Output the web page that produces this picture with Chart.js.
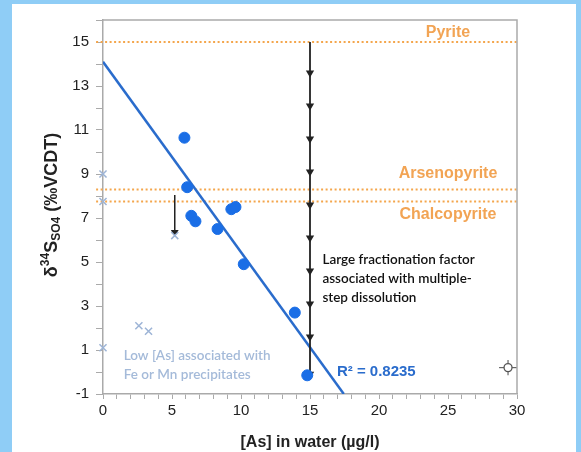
<!DOCTYPE html>
<html>
<head>
<meta charset="utf-8">
<script src="https://cdn.jsdelivr.net/npm/chart.js@4"></script>
<style>
  html, body { margin: 0; padding: 0; }
  body { background: #8fcdf6; width: 581px; height: 452px; overflow: hidden; position: relative; }
  #panel { position: absolute; left: 12px; top: 4px; width: 564px; height: 448px; background: #fff; }
</style>
</head>
<body>
<div id="panel"><canvas id="canvas" width="564" height="448"></canvas></div>
<script>
// measured samples (dissolved As vs sulfate d34S)
var asWater = [5.9, 6.1, 6.4, 6.7, 8.3, 9.3, 9.6, 10.2, 13.9, 14.8];
var d34S    = [10.65, 8.4, 7.1, 6.85, 6.5, 7.4, 7.5, 4.9, 2.7, -0.15];

// low As samples (Fe / Mn precipitates)
var lowAs   = [0, 0, 0, 2.6, 3.3, 5.2];
var lowD34S = [9.0, 7.75, 1.1, 2.1, 1.85, 6.2];

// regression line end points
var fitX = [0, 17.45];
var fitY = [14.1, -1];

// mineral reference values
var mineralNames = ['Pyrite', 'Arsenopyrite', 'Chalcopyrite'];
var mineralD34S  = [15, 8.3, 7.75];

// stepwise dissolution arrow at 15 ug/l
var stepX = 15;
var stepY = [15, 13.6, 12.1, 10.6, 9.1, 7.6, 6.1, 4.6, 3.1, 1.6, -0.1];

// small arrow
var arrowX = 5.2;
var arrowY = [8.05, 6.35];

// analytical uncertainty symbol
var errX = 29.35, errY = 0.2, errDx = 0.65, errDy = 0.35;

var xTicks = [0, 5, 10, 15, 20, 25, 30];
var yTicks = [-1, 1, 3, 5, 7, 9, 11, 13, 15];

var pts = function(xs, ys) { return xs.map(function(x, i) { return {x: x, y: ys[i]}; }); };

var datasets = [];
mineralD34S.forEach(function(v) {
  datasets.push({ type: 'line', data: [{x: -0.5, y: v}, {x: 30, y: v}], borderColor: '#f4a64c',
    borderWidth: 2, borderDash: [2, 2.5], pointRadius: 0, clip: 10, order: 5 });
});
datasets.push({ type: 'line', data: pts(fitX, fitY), borderColor: '#2a6ccc', borderWidth: 2.5, pointRadius: 0, order: 4 });
datasets.push({ type: 'line', data: stepY.map(function(y) { return {x: stepX, y: y}; }), borderColor: '#222',
  borderWidth: 1.8, pointStyle: 'triangle', rotation: 180,
  pointRadius: stepY.map(function(y, i) { return i === 0 ? 0 : 3; }),
  pointBackgroundColor: '#222', pointBorderColor: '#222', order: 3 });
datasets.push({ type: 'line', data: arrowY.map(function(y) { return {x: arrowX, y: y}; }), borderColor: '#222',
  borderWidth: 1.5, pointStyle: 'triangle', rotation: 180, pointRadius: [0, 3],
  pointBackgroundColor: '#222', pointBorderColor: '#222', order: 3 });
datasets.push({ type: 'scatter', data: pts(asWater, d34S), backgroundColor: '#1a6ee6', borderColor: '#1a6ee6',
  pointRadius: 5.5, order: 1 });
datasets.push({ type: 'scatter', data: pts(lowAs, lowD34S), pointStyle: 'crossRot', borderColor: '#9db4d6',
  borderWidth: 1.5, pointRadius: 5, clip: 10, order: 2 });
datasets.push({ type: 'line', data: [{x: errX - errDx, y: errY}, {x: errX + errDx, y: errY}], borderColor: '#666',
  borderWidth: 1.2, pointRadius: 0, order: 2 });
datasets.push({ type: 'line', data: [{x: errX, y: errY - errDy}, {x: errX, y: errY + errDy}], borderColor: '#666',
  borderWidth: 1.2, pointRadius: 0, order: 2 });
datasets.push({ type: 'scatter', data: [{x: errX, y: errY}], pointStyle: 'circle', pointRadius: 4,
  backgroundColor: '#fff', borderColor: '#555', borderWidth: 1.3, order: 1 });

var extras = {
  id: 'extras',
  afterDraw: function(chart) {
    var c = chart.ctx, a = chart.chartArea, xs = chart.scales.x, ys = chart.scales.y;
    c.save();
    c.strokeStyle = '#aaa';
    c.lineWidth = 1.5;
    c.beginPath();
    c.moveTo(a.left, a.top); c.lineTo(a.right, a.top); c.lineTo(a.right, a.bottom);
    c.stroke();

    c.textAlign = 'center';
    c.textBaseline = 'middle';
    c.fillStyle = '#f2a454';
    c.font = 'bold 16px "Liberation Sans", Arial';
    c.fillText(mineralNames[0], xs.getPixelForValue(25), ys.getPixelForValue(15.45));
    c.fillText(mineralNames[1], xs.getPixelForValue(25), ys.getPixelForValue(9.0));
    c.fillText(mineralNames[2], xs.getPixelForValue(25), ys.getPixelForValue(7.15));

    c.textAlign = 'left';
    c.fillStyle = '#111';
    c.font = '600 13.5px Lato';
    var tx = xs.getPixelForValue(15.9);
    c.fillText('Large fractionation factor', tx, ys.getPixelForValue(5.1));
    c.fillText('associated with multiple-', tx, ys.getPixelForValue(4.25));
    c.fillText('step dissolution', tx, ys.getPixelForValue(3.4));

    c.fillStyle = '#a4bad9';
    c.font = '600 13.5px Lato';
    tx = xs.getPixelForValue(1.5);
    c.fillText('Low [As] associated with', tx, ys.getPixelForValue(0.74));
    c.fillText('Fe or Mn precipitates', tx, ys.getPixelForValue(-0.1));

    c.fillStyle = '#2a6ccc';
    c.font = 'bold 15px "Liberation Sans", Arial';
    c.fillText('R\u00b2 = 0.8235', xs.getPixelForValue(16.95), ys.getPixelForValue(0.0));

    // y axis title with super/subscripts
    c.translate(40, 201);
    c.rotate(-Math.PI / 2);
    c.fillStyle = '#222';
    var parts = [['\u03b4', 18, 0], ['34', 12, -6], ['S', 18, 0], ['SO4', 12, 5], [' (\u2030VCDT)', 18, 0]];
    var w = 0;
    parts.forEach(function(p) { c.font = 'bold ' + p[1] + 'px "Liberation Sans", Arial'; w += c.measureText(p[0]).width; });
    var x = -w / 2;
    c.textAlign = 'left';
    parts.forEach(function(p) {
      c.font = 'bold ' + p[1] + 'px "Liberation Sans", Arial';
      c.fillText(p[0], x, p[2]);
      x += c.measureText(p[0]).width;
    });
    c.restore();
  }
};

new Chart(document.getElementById('canvas'), {
  data: { datasets: datasets },
  options: {
    responsive: false,
    animation: false,
    layout: { padding: { left: 0, top: 13, right: 59, bottom: 0 } },
    plugins: { legend: { display: false }, tooltip: { enabled: false } },
    scales: {
      x: {
        type: 'linear', min: 0, max: 30,
        afterFit: function(s) { s.height = 58; },
        grid: { drawOnChartArea: false, color: '#aaa', tickLength: 5 },
        border: { color: '#aaa', width: 1.5 },
        ticks: { stepSize: 1, padding: 3, autoSkip: false, maxRotation: 0, minRotation: 0, color: '#222',
          font: { family: '"Liberation Sans", Arial', size: 15 },
          callback: function(v) { return xTicks.indexOf(v) >= 0 ? String(v) : ''; } },
        title: { display: true, text: '[As] in water (\u00b5g/l)', color: '#222', padding: { top: 0, bottom: 0 },
          font: { family: '"Liberation Sans", Arial', size: 16, weight: 'bold' } }
      },
      y: {
        type: 'linear', min: -1, max: 16,
        afterFit: function(s) { s.width = 91; },
        grid: { drawOnChartArea: false, color: '#aaa', tickLength: 7 },
        border: { color: '#aaa', width: 1.5 },
        ticks: { stepSize: 1, padding: 7, autoSkip: false, color: '#222', font: { family: '"Liberation Sans", Arial', size: 15 },
          callback: function(v) { return yTicks.indexOf(v) >= 0 ? String(v) : ''; } }
      }
    }
  },
  plugins: [extras]
});
</script>
</body>
</html>
